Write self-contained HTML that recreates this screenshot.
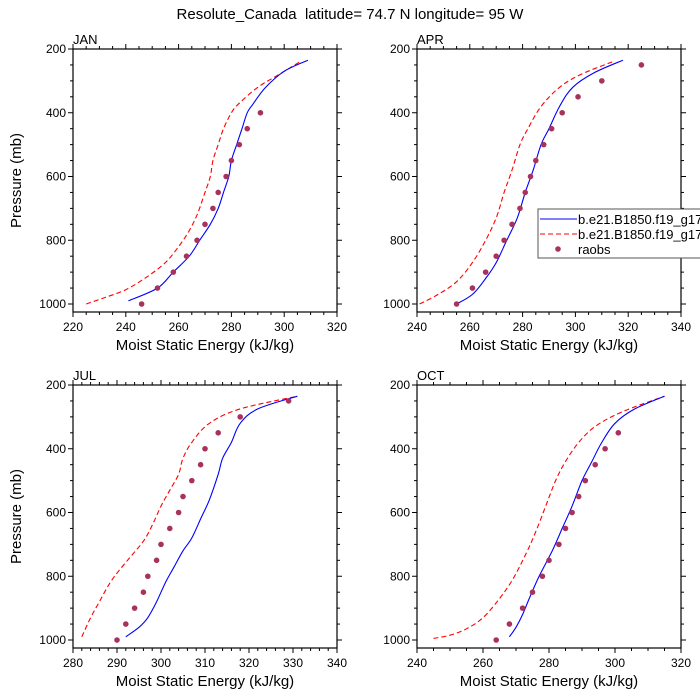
<!DOCTYPE html>
<html><head><meta charset="utf-8"><style>
body{margin:0;background:#fff}
svg{display:block;font-family:"Liberation Sans",sans-serif}
</style></head><body>
<svg id="chart" width="700" height="700">
<text x="350" y="19" text-anchor="middle" font-size="15" style="white-space:pre">Resolute_Canada  latitude= 74.7 N longitude= 95 W</text>
</svg>
<script>
const pressureTicks=[200,400,600,800,1000];
const janBlue=[[241,990],[252,950],[258,900],[264,850],[268,800],[272,750],[275,700],[277,650],[279,600],[280,550],[282,500],[284,450],[286,400],[288,375],[293,320],[300,270],[309,235]];
const janRed=[[225,1000],[232,980],[240,955],[248,915],[255,870],[260,820],[264,770],[267,720],[270,650],[272,600],[273,550],[275,500],[277,450],[280,400],[283,370],[290,320],[297,285],[306,240]];
const janObs=[[246,1000],[252,950],[258,900],[263,850],[267,800],[270,750],[273,700],[275,650],[278,600],[280,550],[283,500],[286,450],[291,400]];
const aprBlue=[[255,1000],[261,970],[266,920],[270,870],[274,800],[278,730],[281,650],[284,580],[287,500],[290,450],[294,380],[299,320],[307,275],[318,235]];
const aprRed=[[241,1000],[248,970],[255,930],[261,870],[266,800],[270,730],[273,650],[276,580],[279,500],[282,450],[287,380],[294,320],[302,280],[314,240]];
const aprObs=[[255,1000],[261,950],[266,900],[270,850],[273,800],[276,750],[279,700],[281,650],[283,600],[285,550],[288,500],[291,450],[295,400],[301,350],[310,300],[325,250]];
const julBlue=[[292,990],[295,960],[297,930],[299,880],[301,820],[303,770],[305,720],[307,680],[309,620],[311,560],[313,480],[314,430],[316,380],[318,320],[322,275],[331,235]];
const julRed=[[282,990],[284,930],[286,880],[288,830],[290,790],[293,740],[296,690],[298,640],[300,580],[302,530],[304,480],[305,430],[307,380],[311,320],[318,275],[331,235]];
const julObs=[[290,1000],[292,950],[294,900],[296,850],[297,800],[299,750],[300,700],[302,650],[304,600],[305,550],[307,500],[309,450],[310,400],[313,350],[318,300],[329,250]];
const octBlue=[[268,990],[270,960],[272,920],[274,870],[277,800],[281,720],[284,650],[287,580],[290,500],[293,440],[296,380],[300,320],[306,275],[315,235]];
const octRed=[[245,995],[250,985],[255,965],[260,930],[265,870],[269,810],[273,730],[276,660],[279,580],[282,500],[285,440],[289,380],[294,330],[302,285],[315,235]];
const octObs=[[264,1000],[268,950],[272,900],[275,850],[278,800],[280,750],[283,700],[285,650],[287,600],[289,550],[291,500],[294,450],[297,400],[301,350]];
const janXTicks=[220,240,260,280,300,320];
const aprXTicks=[240,260,280,300,320,340];
const julXTicks=[280,290,300,310,320,330,340];
const octXTicks=[240,260,280,300,320];
const legendLabels=["b.e21.B1850.f19_g17","b.e21.B1850.f19_g17","raobs"];

const svg=document.getElementById('chart');
const NS='http://www.w3.org/2000/svg';
function mk(tag,attrs,parent){const e=document.createElementNS(NS,tag);for(const k in attrs)e.setAttribute(k,attrs[k]);(parent||svg).appendChild(e);return e;}
function smoothPath(P){
  let d='M'+P[0][0].toFixed(1)+','+P[0][1].toFixed(1);
  for(let i=0;i<P.length-1;i++){
    const p0=P[i-1]||P[i],p1=P[i],p2=P[i+1],p3=P[i+2]||P[i+1];
    const c1x=p1[0]+(p2[0]-p0[0])/6,c1y=p1[1]+(p2[1]-p0[1])/6;
    const c2x=p2[0]-(p3[0]-p1[0])/6,c2y=p2[1]-(p3[1]-p1[1])/6;
    d+=` C${c1x.toFixed(1)},${c1y.toFixed(1)} ${c2x.toFixed(1)},${c2y.toFixed(1)} ${p2[0].toFixed(1)},${p2[1].toFixed(1)}`;
  }
  return d;
}
function panel(name,L,T,xt,minorStep,blue,red,obs,showY){
  const R=L+264,B=T+263;
  const xmin=xt[0],xmax=xt[xt.length-1];
  const sx=v=>L+(v-xmin)/(xmax-xmin)*(R-L);
  const sy=p=>T+(p-200)/800*255;
  const g=mk('g',{});
  
  
  const fr=mk('rect',{x:L,y:T,width:R-L,height:B-T,fill:'none',stroke:'#000','stroke-width':1.2},g);
  
  
  for(let v=xmin;v<=xmax+1e-9;v+=minorStep){
    const major=xt.includes(v);const len=major?5:3;const x=sx(v);
    mk('line',{x1:x,x2:x,y1:B,y2:B+len,stroke:'#000'},g);
    mk('line',{x1:x,x2:x,y1:T,y2:T-len,stroke:'#000'},g);
  }
  xt.forEach(v=>{const t=mk('text',{x:sx(v),y:B+19,'text-anchor':'middle','font-size':12},g);t.textContent=v;
    });
  for(let p=200;p<=1000;p+=50){
    const major=pressureTicks.includes(p);const len=major?5:3;const y=sy(p);
    mk('line',{x1:L-len,x2:L,y1:y,y2:y,stroke:'#000'},g);
    mk('line',{x1:R,x2:R+len,y1:y,y2:y,stroke:'#000'},g);
  }
  pressureTicks.forEach(p=>{const t=mk('text',{x:L-7,y:sy(p)+4,'text-anchor':'end','font-size':12},g);t.textContent=p;
    });
  const xl=mk('text',{x:(L+R)/2,y:B+38,'text-anchor':'middle','font-size':15},g);xl.textContent='Moist Static Energy (kJ/kg)';
  
  if(showY){const yl=mk('text',{x:0,y:0,'text-anchor':'middle','font-size':15,transform:`translate(21,${(T+B)/2}) rotate(-90)`},g);yl.textContent='Pressure (mb)';
    }
  const tl=mk('text',{x:L,y:T-5,'font-size':13},g);tl.textContent=name.toUpperCase();
  
  const pts=a=>a.map(d=>[sx(d[0]),sy(d[1])]);
  const rl=mk('path',{d:smoothPath(pts(red)),fill:'none',stroke:'#ff0000','stroke-width':1.1,'stroke-dasharray':'5,3'},g);
  
  const bl=mk('path',{d:smoothPath(pts(blue)),fill:'none',stroke:'#0000ff','stroke-width':1.1},g);
  
  obs.forEach(d=>{const c=mk('circle',{cx:sx(d[0]),cy:sy(d[1]),r:2.8,fill:'#a8325e'},g);
    });
}
panel('jan',73,49,janXTicks,5,janBlue,janRed,janObs,true);
panel('apr',417,49,aprXTicks,5,aprBlue,aprRed,aprObs,false);
panel('jul',73,385,julXTicks,2,julBlue,julRed,julObs,true);
panel('oct',417,385,octXTicks,5,octBlue,octRed,octObs,false);
const lg=mk('g',{});


mk('rect',{x:538,y:209,width:170,height:49,fill:'#fff',stroke:'#555','stroke-width':1},lg);
mk('line',{x1:540,x2:577,y1:219,y2:219,stroke:'#0000ff','stroke-width':1.1},lg);
mk('line',{x1:540,x2:577,y1:234,y2:234,stroke:'#ff0000','stroke-width':1.1,'stroke-dasharray':'5,3'},lg);
mk('circle',{cx:558,cy:249,r:2.8,fill:'#a8325e'},lg);
legendLabels.forEach((s,i)=>{const t=mk('text',{x:578,y:224+i*15,'font-size':13},lg);t.textContent=s;
  });
</script>
</body></html>
